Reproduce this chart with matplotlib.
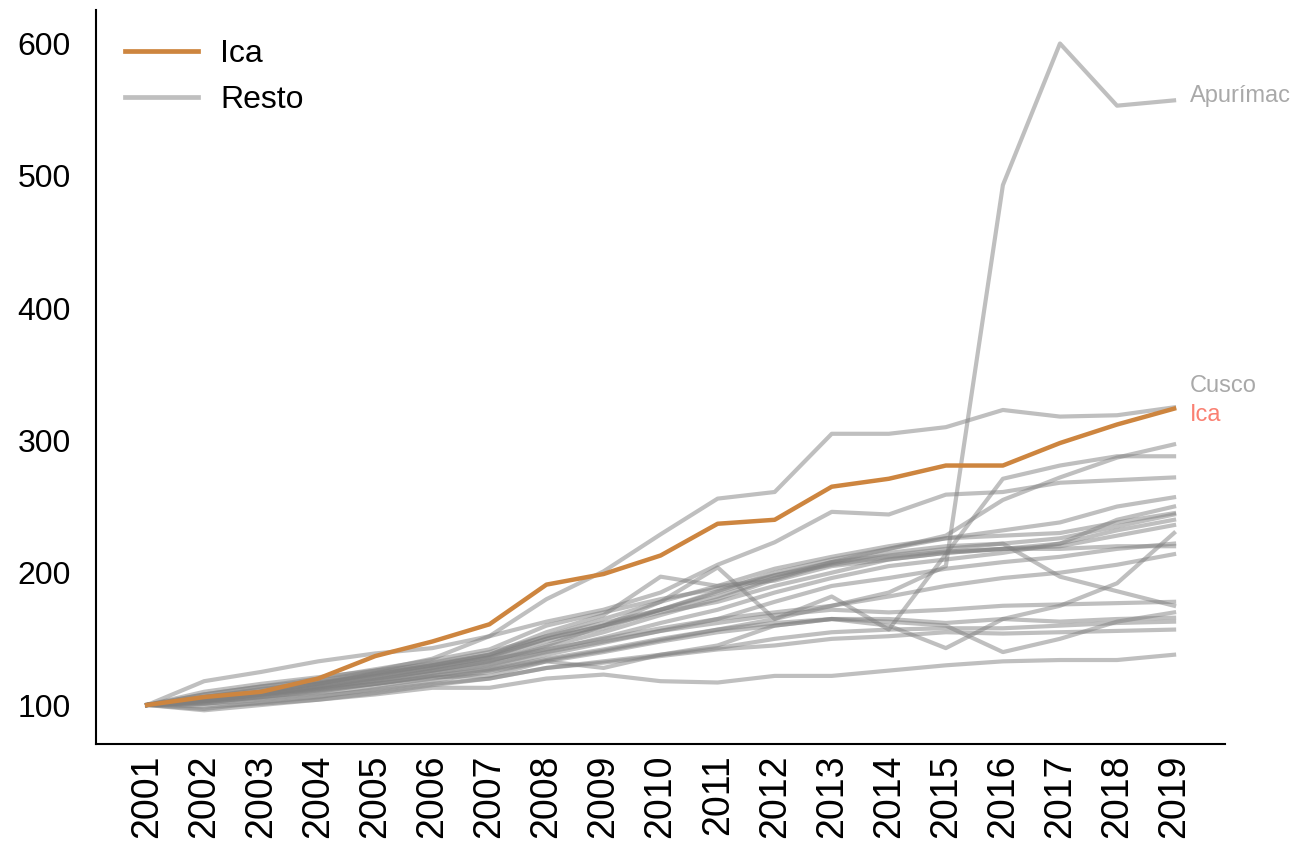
import matplotlib
matplotlib.use('Agg')
import matplotlib.pyplot as plt
from matplotlib.lines import Line2D

plt.rcParams['font.family'] = ['Liberation Sans', 'DejaVu Sans']

years = list(range(2001, 2020))

ica = [100, 106, 110, 120, 137, 148, 161, 191, 199, 213, 237, 240, 265, 271, 281, 281, 298, 312, 324]

# other regions ("Resto")
resto = {
    'Cusco': [100, 108, 114, 118, 126, 135, 152, 180, 201, 229, 256, 261, 305, 305, 310, 323, 318, 319, 325],
    'Apurímac': [100, 104, 110, 116, 122, 128, 134, 142, 150, 158, 165, 170, 175, 185, 205, 493, 600, 553, 557],
    'r03': [100, 118, 125, 133, 139, 143, 152, 163, 172, 185, 206, 223, 246, 244, 259, 261, 268, 270, 272],
    'r04': [100, 105, 110, 116, 124, 132, 140, 152, 162, 172, 182, 196, 208, 218, 228, 255, 272, 287, 297],
    'r05': [100, 103, 108, 114, 120, 126, 133, 145, 160, 178, 204, 165, 182, 157, 214, 271, 281, 288, 288],
    'r06': [100, 106, 112, 117, 124, 130, 137, 150, 160, 172, 185, 198, 208, 213, 218, 222, 197, 186, 175],
    'r07': [100, 97, 102, 106, 112, 118, 125, 133, 140, 148, 155, 160, 165, 160, 143, 165, 175, 192, 230],
    'r08': [100, 102, 106, 110, 116, 122, 127, 135, 142, 150, 157, 162, 165, 163, 160, 140, 150, 163, 170],
    'r09': [100, 99, 101, 104, 108, 113, 113, 120, 123, 118, 117, 122, 122, 126, 130, 133, 134, 134, 138],
    'r10': [100, 104, 109, 114, 121, 128, 136, 148, 158, 172, 186, 200, 210, 218, 226, 232, 238, 250, 257],
    'r11': [100, 105, 110, 116, 123, 130, 138, 152, 165, 178, 190, 203, 212, 220, 226, 228, 230, 238, 245],
    'r12': [100, 103, 108, 113, 119, 126, 133, 144, 155, 168, 180, 195, 207, 215, 220, 222, 226, 235, 244],
    'r13': [100, 104, 108, 113, 119, 125, 131, 141, 151, 162, 172, 185, 196, 205, 210, 215, 222, 232, 240],
    'r14': [100, 106, 111, 117, 123, 129, 136, 150, 160, 170, 178, 190, 200, 210, 215, 218, 220, 228, 236],
    'r15': [100, 102, 106, 111, 116, 122, 128, 138, 147, 156, 165, 178, 190, 196, 203, 208, 212, 218, 222],
    'r16': [100, 110, 116, 121, 126, 131, 138, 155, 168, 197, 190, 194, 205, 210, 215, 218, 218, 220, 220],
    'r17': [100, 101, 105, 109, 114, 120, 126, 134, 141, 149, 157, 165, 175, 182, 190, 196, 200, 206, 214],
    'r18': [100, 103, 107, 112, 118, 124, 130, 140, 148, 156, 162, 168, 172, 170, 172, 175, 176, 177, 178],
    'r19': [100, 96, 100, 104, 109, 115, 120, 128, 133, 138, 143, 150, 155, 157, 158, 158, 160, 162, 163],
    'r20': [100, 101, 104, 107, 111, 116, 120, 128, 132, 137, 142, 145, 150, 152, 155, 154, 155, 156, 157],
    'r21': [100, 104, 108, 112, 116, 121, 122, 133, 128, 138, 145, 160, 165, 165, 162, 165, 163, 165, 166],
    'r22': [100, 108, 114, 120, 127, 134, 142, 160, 170, 180, 188, 198, 206, 212, 216, 218, 222, 240, 250],
}

labels = {'Apurímac': 3, 'Cusco': 16}

fig, ax = plt.subplots(figsize=(12.94, 8.46), dpi=100)
fig.subplots_adjust(left=0.074, right=0.947, bottom=0.121, top=0.988)

for name, vals in resto.items():
    ax.plot(years, vals, color='gray', alpha=0.5, lw=3.0)
ax.plot(years, ica, color='peru', lw=3.2)

for name, off in labels.items():
    ax.text(years[-1] + 0.28, resto[name][-1] + off, name, color='darkgray',
            fontsize=17, va='center')
ax.text(years[-1] + 0.28, ica[-1] - 5, 'Ica', color='salmon', fontsize=17, va='center')

ax.set_xticks(years)
ax.set_xticklabels([str(y) for y in years], rotation=90, fontsize=27)
ax.set_yticks([100, 200, 300, 400, 500, 600])
ax.tick_params(axis='y', labelsize=23, length=0, pad=18)
ax.tick_params(axis='x', length=0, pad=8)

for s in ['top', 'right']:
    ax.spines[s].set_visible(False)
for s in ['left', 'bottom']:
    ax.spines[s].set_linewidth(1.5)

handles = [Line2D([], [], color='peru', lw=3.4),
           Line2D([], [], color='gray', alpha=0.5, lw=3.4)]
ax.legend(handles, ['Ica', 'Resto'], loc='upper left', frameon=False, fontsize=23,
          handlelength=2.3, handletextpad=0.7)

fig.savefig('out.png')
